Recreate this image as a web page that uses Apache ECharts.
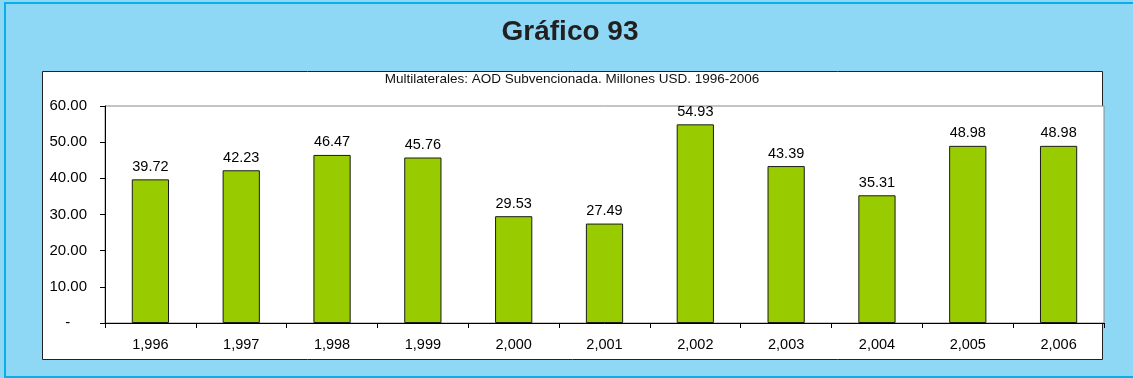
<!DOCTYPE html>
<html>
<head>
<meta charset="utf-8">
<script src="https://cdn.jsdelivr.net/npm/echarts@6/dist/echarts.min.js"></script>
<style>
  html, body { margin: 0; padding: 0; background: #8ed8f5; }
  #chart { width: 1133px; height: 378px; }
</style>
</head>
<body>
<div id="chart"></div>
<script>
// Multilateral subsidised ODA, million USD, by year
const years = ['1,996', '1,997', '1,998', '1,999', '2,000', '2,001', '2,002', '2,003', '2,004', '2,005', '2,006'];
const values = [39.72, 42.23, 46.47, 45.76, 29.53, 27.49, 54.93, 43.39, 35.31, 48.98, 48.98];
const titleText = 'Gráfico 93';
const subtitleText = 'Multilaterales: AOD Subvencionada. Millones USD. 1996-2006';

const chart = echarts.init(document.getElementById('chart'), null, { renderer: 'canvas' });
const font = '"Liberation Sans", Arial, sans-serif';

chart.setOption({
  backgroundColor: '#8ed8f5',
  animation: false,
  textStyle: { fontFamily: font },
  graphic: [
    { type: 'rect', z: -10, shape: { x: 5, y: 3, width: 1140, height: 374 },
      style: { fill: '#8ed8f5', stroke: '#0aaeea', lineWidth: 2 } },
    { type: 'rect', z: -5, shape: { x: 42.5, y: 71.5, width: 1060, height: 288 },
      style: { fill: '#ffffff', stroke: '#222222', lineWidth: 1 } },
    { type: 'text', z: 10, x: 570, y: 18,
      style: { text: titleText, fill: '#231f20', font: 'bold 28px ' + font, textAlign: 'center' } },
    { type: 'text', z: 10, x: 572, y: 72,
      style: { text: subtitleText, fill: '#111', font: '13.5px ' + font, textAlign: 'center' } }
  ],
  grid: {
    left: 105, right: 29, top: 106, bottom: 55,
    show: true, backgroundColor: '#ffffff', borderColor: '#8a8a8a', borderWidth: 1
  },
  xAxis: {
    type: 'category',
    data: years,
    axisLine: { lineStyle: { color: '#000', width: 1 } },
    axisTick: { show: true, length: 5, lineStyle: { color: '#000' } },
    axisLabel: { color: '#000', fontSize: 14.5, margin: 14, fontFamily: font }
  },
  yAxis: {
    type: 'value',
    min: 0, max: 60, interval: 10,
    splitLine: { show: false },
    axisLine: { show: true, lineStyle: { color: '#000', width: 1 } },
    axisTick: { show: true, length: 5, lineStyle: { color: '#000' } },
    axisLabel: {
      color: '#000', fontSize: 15, margin: 18, fontFamily: font,
      formatter: v => v === 0 ? '-    ' : v.toFixed(2)
    }
  },
  series: [{
    type: 'bar',
    data: values,
    barWidth: '41%',
    itemStyle: { color: '#99cc00', borderColor: '#1a1a1a', borderWidth: 1 },
    label: {
      show: true, position: 'top', distance: 5,
      color: '#000', fontSize: 14.5, fontFamily: font,
      formatter: p => p.value.toFixed(2)
    }
  }]
});
</script>
</body>
</html>
